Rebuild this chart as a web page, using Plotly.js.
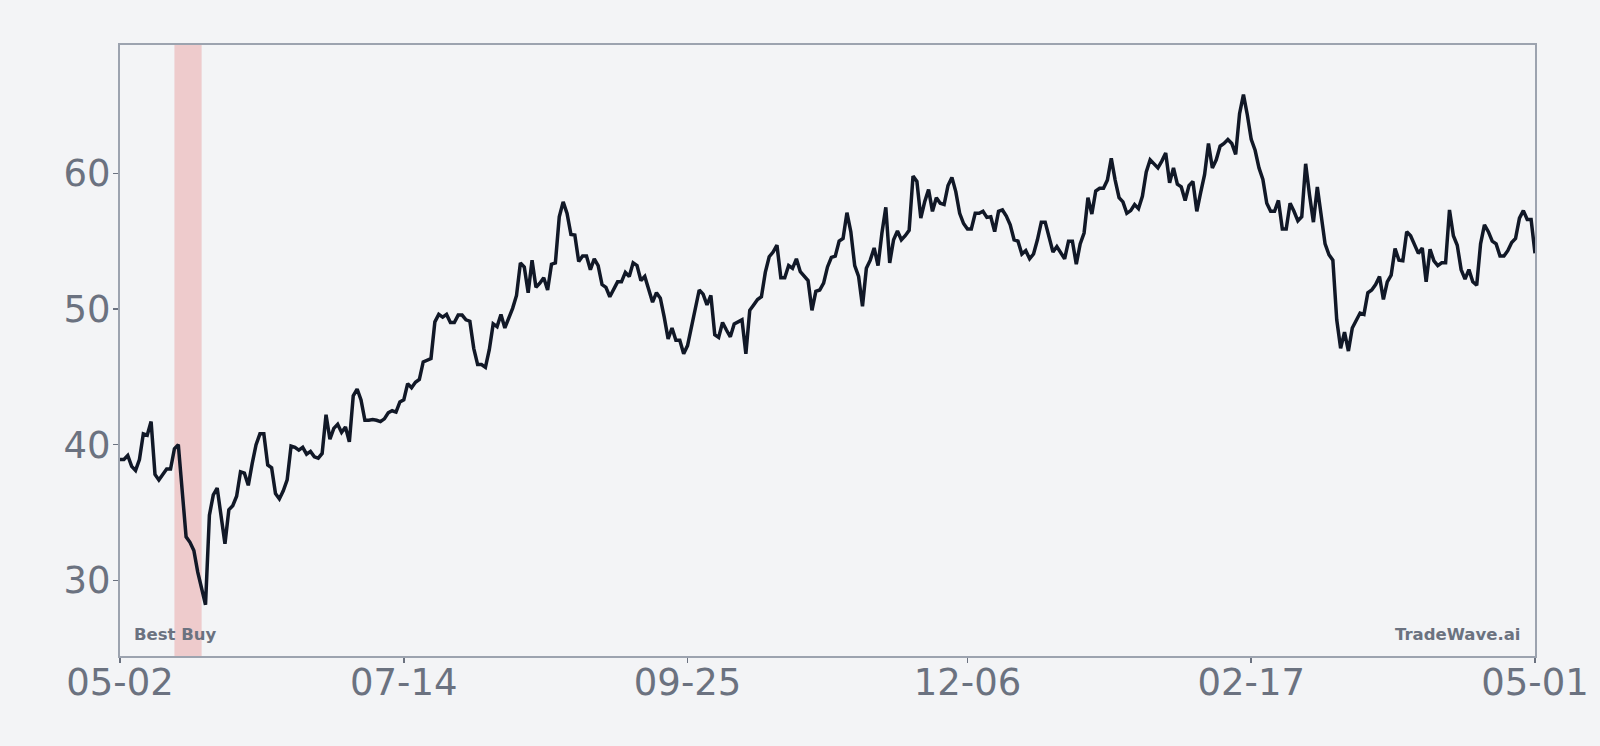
<!DOCTYPE html>
<html>
<head>
<meta charset="utf-8">
<script src="https://cdn.plot.ly/plotly-3.0.1.min.js"></script>
<style>
  html, body { margin: 0; padding: 0; background: #f3f4f6; }
</style>
</head>
<body>
<div id="myDiv"></div>
<script>
// daily closes, 2024-05-02 .. 2025-05-01 (one value per calendar day)
const startDay = [2024, 4, 2];
const closes = [
  38.9, 38.9, 39.2, 38.4, 38.1, 38.9, 40.8, 40.7, 41.7, 37.8,
  37.4, 37.8, 38.2, 38.2, 39.7, 40.0, 36.2, 33.2, 32.8, 32.2,
  30.6, 29.3, 28.2, 34.8, 36.3, 36.8, 34.8, 32.7, 35.2, 35.5,
  36.2, 38.0, 37.9, 37.0, 38.6, 40.0, 40.8, 40.8, 38.5, 38.3,
  36.4, 36.0, 36.6, 37.4, 39.9, 39.8, 39.6, 39.8, 39.3, 39.5,
  39.1, 39.0, 39.35, 42.2, 40.4, 41.2, 41.5, 40.9, 41.3, 40.2,
  43.6, 44.1, 43.3, 41.8, 41.8, 41.85, 41.8, 41.7, 41.9, 42.35,
  42.5, 42.4, 43.15, 43.3, 44.5, 44.2, 44.6, 44.8, 46.1, 46.2,
  46.35, 49.05, 49.6, 49.4, 49.6, 49.0, 49.0, 49.55, 49.55, 49.2,
  49.1, 47.1, 45.9, 45.9, 45.7, 47.0, 48.9, 48.7, 49.6, 48.6,
  49.3, 50.05, 51.0, 53.4, 53.1, 51.2, 53.6, 51.6, 51.9, 52.3,
  51.4, 53.3, 53.4, 56.8, 57.9, 57.05, 55.5, 55.45, 53.5, 53.9,
  53.9, 52.9, 53.7, 53.2, 51.8, 51.6, 50.9, 51.4, 52.0, 52.0,
  52.7, 52.4, 53.4, 53.2, 52.1, 52.4, 51.4, 50.5, 51.2, 50.8,
  49.4, 47.8, 48.6, 47.7, 47.7, 46.7, 47.3, 48.6, 50.0, 51.4,
  51.1, 50.3, 51.0, 48.1, 47.9, 49.0, 48.45, 47.95, 48.9, 49.05,
  49.2, 46.7, 49.9, 50.3, 50.7, 50.9, 52.7, 53.85, 54.2, 54.7,
  52.3, 52.3, 53.2, 53.0, 53.7, 52.75, 52.4, 52.1, 49.9, 51.3,
  51.4, 51.9, 53.1, 53.8, 53.9, 55.0, 55.2, 57.1, 55.7, 53.2,
  52.4, 50.2, 53.0, 53.6, 54.5, 53.2, 55.6, 57.5, 53.4, 55.1,
  55.75, 55.1, 55.4, 55.8, 59.8, 59.4, 56.7, 57.9, 58.8, 57.2,
  58.2, 57.8, 57.7, 59.1, 59.7, 58.65, 57.05, 56.3, 55.9, 55.9,
  57.05, 57.05, 57.2, 56.75, 56.8, 55.7, 57.2, 57.3, 56.85, 56.2,
  55.1, 55.0, 54.05, 54.3, 53.7, 54.05, 55.1, 56.4, 56.4, 55.3,
  54.2, 54.6, 54.2, 53.7, 55.0, 55.0, 53.3, 54.8, 55.6, 58.2,
  57.0, 58.7, 58.9, 58.9, 59.5, 61.1, 59.5, 58.2, 57.9, 57.05,
  57.25, 57.7, 57.4, 58.3, 60.1, 61.0, 60.7, 60.4, 60.9, 61.5,
  59.3, 60.4, 59.2, 59.0, 58.0, 59.1, 59.4, 57.2, 58.6, 59.9,
  62.2, 60.4, 61.0, 62.0, 62.2, 62.5, 62.2, 61.4, 64.4, 65.8,
  64.3, 62.5, 61.7, 60.4, 59.55, 57.8, 57.2, 57.2, 58.0, 55.9,
  55.9, 57.8, 57.2, 56.5, 56.8, 60.7, 58.4, 56.4, 59.0, 56.7,
  54.8, 54.0, 53.6, 49.2, 47.1, 48.3, 46.9, 48.6, 49.2, 49.7,
  49.6, 51.2, 51.4, 51.8, 52.4, 50.7, 52.0, 52.5, 54.45, 53.6,
  53.55, 55.7, 55.4, 54.7, 54.1, 54.5, 52.0, 54.4, 53.55, 53.2,
  53.4, 53.4, 57.3, 55.4, 54.7, 52.9, 52.2, 52.9, 52.0, 51.75,
  54.8, 56.2, 55.7, 55.0, 54.8, 53.9, 53.9, 54.3, 54.9, 55.2,
  56.7, 57.25, 56.6, 56.6, 54.1
];

const tickDates = ["2024-05-02", "2024-07-14", "2024-09-25", "2024-12-06", "2025-02-17", "2025-05-01"];
const tickLabels = ["05-02", "07-14", "09-25", "12-06", "02-17", "05-01"];
const yTicks = [30, 40, 50, 60];

// highlighted week
const bandStart = "2024-05-16";
const bandEnd = "2024-05-23";

const ticker = "Best Buy";
const brand = "TradeWave.ai";

const dates = closes.map((v, i) => {
  const d = new Date(Date.UTC(startDay[0], startDay[1], startDay[2] + i));
  return d.toISOString().slice(0, 10);
});

const gray = "#6b7280";
const frame = "#9ca3af";

const data = [
  {
    x: dates,
    y: closes,
    type: "scatter",
    mode: "lines",
    line: { color: "#111827", width: 3.5 },
    hoverinfo: "skip"
  }
];

const layout = {
  width: 1600,
  height: 746,
  autosize: false,
  margin: { l: 120, r: 65, t: 45, b: 90, pad: 0 },
  paper_bgcolor: "#f3f4f6",
  plot_bgcolor: "#f3f4f6",
  showlegend: false,
  font: { family: "DejaVu Sans, sans-serif", size: 37, color: gray },
  xaxis: {
    type: "date",
    range: [dates[0], dates[dates.length - 1]],
    tickvals: tickDates,
    ticktext: tickLabels,
    showgrid: false,
    zeroline: false,
    showline: true,
    mirror: true,
    linecolor: frame,
    linewidth: 2,
    ticks: "outside",
    ticklen: 5,
    tickwidth: 1.5,
    tickcolor: gray,
    ticklabelstandoff: -12,
    tickfont: { size: 37, color: gray }
  },
  yaxis: {
    range: [24.42, 69.46],
    tickvals: yTicks,
    showgrid: false,
    zeroline: false,
    showline: true,
    mirror: true,
    linecolor: frame,
    linewidth: 2,
    ticks: "outside",
    ticklen: 5,
    tickwidth: 1.5,
    tickcolor: gray,
    ticklabelstandoff: -5,
    tickfont: { size: 37, color: gray }
  },
  shapes: [
    {
      type: "rect",
      xref: "x",
      yref: "paper",
      x0: bandStart,
      x1: bandEnd,
      y0: 0,
      y1: 1,
      fillcolor: "rgba(220, 38, 38, 0.2)",
      line: { width: 0 },
      layer: "below"
    }
  ],
  annotations: [
    {
      text: ticker,
      xref: "paper", yref: "paper",
      x: 0, y: 0,
      xanchor: "left", yanchor: "bottom",
      xshift: 12, yshift: 10,
      showarrow: false,
      font: { family: "DejaVu Sans", size: 16.5, color: gray, weight: "bold" }
    },
    {
      text: brand,
      xref: "paper", yref: "paper",
      x: 1, y: 0,
      xanchor: "right", yanchor: "bottom",
      xshift: -13, yshift: 10,
      showarrow: false,
      font: { family: "DejaVu Sans", size: 16.5, color: gray, weight: "bold" }
    }
  ]
};

Plotly.newPlot("myDiv", data, layout, { displayModeBar: false, staticPlot: true });
</script>
</body>
</html>
